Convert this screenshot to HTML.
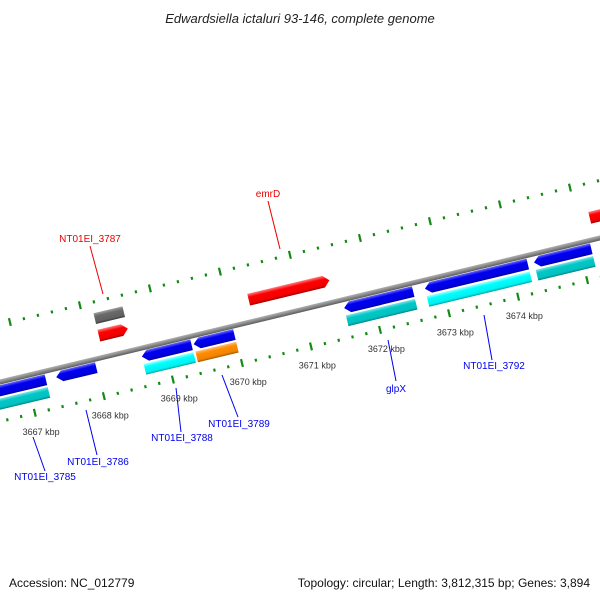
<!DOCTYPE html>
<html><head><meta charset="utf-8"><style>
body{margin:0;background:#fff}
svg{display:block;font-family:"Liberation Sans",sans-serif}
</style></head><body>
<svg id="chart" width="600" height="600" viewBox="0 0 600 600" xmlns="http://www.w3.org/2000/svg">
<defs>
<linearGradient id="g-blue" x1="0" y1="0" x2="0" y2="1"><stop offset="0" stop-color="#6a6aff"/><stop offset="0.3" stop-color="#0000f0"/><stop offset="0.8" stop-color="#0000e0"/><stop offset="1" stop-color="#00009a"/></linearGradient>
<linearGradient id="g-cyan" x1="0" y1="0" x2="0" y2="1"><stop offset="0" stop-color="#aaffff"/><stop offset="0.3" stop-color="#00ffff"/><stop offset="0.8" stop-color="#00f0f0"/><stop offset="1" stop-color="#00a0a0"/></linearGradient>
<linearGradient id="g-teal" x1="0" y1="0" x2="0" y2="1"><stop offset="0" stop-color="#80e4e4"/><stop offset="0.3" stop-color="#00c8c8"/><stop offset="0.8" stop-color="#00c0c0"/><stop offset="1" stop-color="#008080"/></linearGradient>
<linearGradient id="g-orange" x1="0" y1="0" x2="0" y2="1"><stop offset="0" stop-color="#ffc080"/><stop offset="0.3" stop-color="#ff8c00"/><stop offset="0.8" stop-color="#f08400"/><stop offset="1" stop-color="#a05500"/></linearGradient>
<linearGradient id="g-red" x1="0" y1="0" x2="0" y2="1"><stop offset="0" stop-color="#ff8080"/><stop offset="0.3" stop-color="#ff0000"/><stop offset="0.8" stop-color="#f00000"/><stop offset="1" stop-color="#a00000"/></linearGradient>
<linearGradient id="g-gray" x1="0" y1="0" x2="0" y2="1"><stop offset="0" stop-color="#a0a0a0"/><stop offset="0.3" stop-color="#6a6a6a"/><stop offset="0.8" stop-color="#606060"/><stop offset="1" stop-color="#3a3a3a"/></linearGradient>
<linearGradient id="g-bb" x1="0" y1="0" x2="0" y2="1"><stop offset="0" stop-color="#b0b0b0"/><stop offset="0.5" stop-color="#8a8a8a"/><stop offset="1" stop-color="#5a5a5a"/></linearGradient>
</defs>
<text x="300" y="23" text-anchor="middle" font-size="13" font-style="italic" fill="#222">Edwardsiella ictaluri 93-146, complete genome</text>
<g id="rot" transform="translate(0,382) rotate(-13.5)"></g>
<g id="labels"></g>
<text x="9" y="587" font-size="12" fill="#111">Accession: NC_012779</text>
<text x="590" y="587" text-anchor="end" font-size="12" fill="#111">Topology: circular; Length: 3,812,315 bp; Genes: 3,894</text>
</svg>
<script>
// feature data (kbp)
const featStart = [3665.78,3665.78,3667.41,3668.65,3668.65,3669.40,3669.40,3670.30,3668.13,3668.13,3671.58,3671.58,3672.75,3672.75,3674.33,3674.33,3675.24];
const featEnd   = [3667.26,3667.26,3667.99,3669.37,3669.37,3669.99,3669.99,3671.47,3668.55,3668.55,3672.58,3672.58,3674.24,3674.24,3675.16,3675.16,3676.2];
const featRow   = [1,2,1,1,2,1,2,-1,-1,-2,1,2,1,2,1,2,-1];
const featDir   = [-1,0,-1,-1,0,-1,0,1,1,0,-1,0,-1,0,-1,0,1];
const featColor = ['blue','teal','blue','blue','cyan','blue','orange','red','red','gray','blue','teal','blue','cyan','blue','teal','red'];
const kbpLabels = [3667,3668,3669,3670,3671,3672,3673,3674];
const geneNames = ['emrD','NT01EI_3787','NT01EI_3785','NT01EI_3786','NT01EI_3788','NT01EI_3789','glpX','NT01EI_3792'];
const geneColor = ['red','red','blue','blue','blue','blue','blue','blue'];
const geneLabelX = [268,90,45,98,182,239,396,494];
const geneLabelY = [197,242,480,465,441,427,392,369];
const geneLineX1 = [268,90,33,86,176,222,388,484];
const geneLineY1 = [201,246,437,410,388,375,340,315];
const geneLineX2 = [280,103,45,97,181,238,396,492];
const geneLineY2 = [249,294,471,455,432,417,381,360];

const NS='http://www.w3.org/2000/svg';
const rot=document.getElementById('rot'), lab=document.getElementById('labels');
const uLow=k=>168.7+71*(k-3669);
const uUp=k=>311.6+72*(k-3671);
const rowV={1:[3,14],2:[16,27],'-1':[-28,-16],'-2':[-45,-34]};
const C=Math.cos(13.5*Math.PI/180),S=Math.sin(13.5*Math.PI/180);
function mk(tag,attrs,parent){const e=document.createElementNS(NS,tag);for(const k in attrs)e.setAttribute(k,attrs[k]);parent.appendChild(e);return e;}

const bb=mk('rect',{x:-50,y:-2.5,width:800,height:5,fill:'url(#g-bb)'},rot);



for(let i=0;i<=50;i++){
  const k=3666.0+i*0.2; const long=Math.abs(k-Math.round(k))<0.01;
  const u=uLow(k);
  const t=mk('line',{x1:u,x2:u,y1:long?34:37,y2:long?42:40,stroke:'#138a13','stroke-width':2.2},rot);
  
  
}
for(let i=0;i<=50;i++){
  const k=3666.6+i*0.2; const long=Math.abs(k-Math.round(k))<0.01;
  const u=uUp(k);
  const t=mk('line',{x1:u,x2:u,y1:long?-60:-57.5,y2:long?-52:-54.5,stroke:'#138a13','stroke-width':2.2},rot);
  
  
}

for(let i=0;i<featStart.length;i++){
  const a=uLow(featStart[i]),b=uLow(featEnd[i]);const [v0,v1]=rowV[featRow[i]];const m=(v0+v1)/2;const h=6;
  let pts;
  if(featDir[i]===1) pts=[[a,v0],[b-h,v0],[b,m],[b-h,v1],[a,v1]];
  else if(featDir[i]===-1) pts=[[a+h,v0],[b,v0],[b,v1],[a+h,v1],[a,m]];
  else pts=[[a,v0],[b,v0],[b,v1],[a,v1]];
  const p=mk('polygon',{points:pts.map(q=>q.join(',')).join(' '),fill:'url(#g-'+featColor[i]+')'},rot);
  
  
}

for(let i=0;i<kbpLabels.length;i++){
  const u=uLow(kbpLabels[i])+1, v=61;
  const x=u*C+v*S, y=382-u*S+v*C;
  const t=mk('text',{x:x,y:y,'text-anchor':'middle','font-size':9,fill:'#333'},lab);
  t.textContent=kbpLabels[i]+' kbp';
  
  
}

for(let i=0;i<geneNames.length;i++){
  const col=geneColor[i]==='red'?'#ee0000':'#0000ee';
  const l=mk('line',{x1:geneLineX1[i],y1:geneLineY1[i],x2:geneLineX2[i],y2:geneLineY2[i],stroke:col,'stroke-width':1},lab);
  
  
  const t=mk('text',{x:geneLabelX[i],y:geneLabelY[i],'text-anchor':'middle','font-size':10,fill:col},lab);
  t.textContent=geneNames[i];
  
  
}
</script>
</body></html>
